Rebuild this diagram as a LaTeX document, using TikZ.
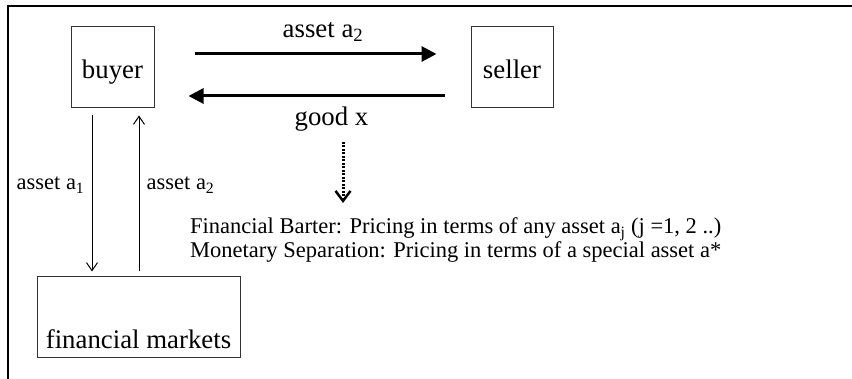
\documentclass[tikz,border=0pt]{standalone}
\usepackage{fontspec}
\setmainfont{Liberation Serif}
\usetikzlibrary{arrows.meta}
\begin{document}
\begin{tikzpicture}[x=1pt,y=-1pt,
  box/.style={draw=black!80, line width=1pt, inner sep=0pt, text height=23pt, text depth=0pt, font=\fontsize{26.8}{30}\selectfont},
  big/.style={font=\fontsize{26.8}{30}\selectfont, inner sep=0pt},
  small/.style={font=\fontsize{22.5}{25}\selectfont, inner sep=0pt},
  bigarrow/.style={line width=3pt, -{Triangle[length=15pt,width=15pt]}},
  thinarrow/.style={line width=1pt, -{Straight Barb[length=8pt,width=11pt]}},
  dotarrow/.style={line width=3pt, dash pattern=on 2pt off 1.5pt, -{Straight Barb[length=10pt,width=15pt,line width=2.5pt]}},
  frame/.style={line width=2.5pt}]
\useasboundingbox (0,0) rectangle (852,379);
\draw[frame] (8,379) -- (8,6) -- (852,6);

\node[box, minimum width=83pt, minimum height=81pt] (buyer) at (112.5,67.5) {buyer};
\node[box, minimum width=82pt, minimum height=81pt] (seller) at (512,67.5) {seller};
\node[box, text height=63pt, minimum width=203pt, minimum height=81pt] (fm) at (138.5,317.5) {financial markets};

\draw[bigarrow, shorten <=40pt, shorten >=34pt] ([yshift=13.5pt]buyer.east) -- ([yshift=13.5pt]seller.west);
\draw[bigarrow, shorten <=26pt, shorten >=34pt] ([yshift=-28.5pt]seller.west) -- ([yshift=-28.5pt]buyer.east);

\node[big, anchor=base] (atop) at (323,38) {asset a\textsubscript{2}};
\node[big, anchor=base] (goodx) at (331.5,126) {good x};

\node[small, anchor=base west] (desc1) at (190,234) {Financial Barter: Pricing in terms of any asset a\textsubscript{j} (j =1, 2 ..)};
\node[small, anchor=base west] (desc2) at (190,258) {Monetary Separation: Pricing in terms of a special asset a*};

\coordinate (dtop) at ([xshift=11.5pt,yshift=-16pt]goodx.base);
\path (desc1.base -| dtop) ++(0,-31) coordinate (dbot);
\draw[dotarrow] (dtop) -- (dbot);

\coordinate (l1) at ([xshift=-20.5pt,yshift=-7pt]buyer.south);
\draw[thinarrow, shorten >=5pt] (l1) -- (l1 |- fm.north);
\coordinate (r1) at ([xshift=0.5pt,yshift=5pt]fm.north);
\draw[thinarrow, shorten >=7pt] (r1) -- (r1 |- buyer.south);

\node[small, anchor=base] (aleft) at (50.5,190) {asset a\textsubscript{1}};
\node[small, anchor=base] (aright) at (180.5,190) {asset a\textsubscript{2}};
\end{tikzpicture}
\end{document}
